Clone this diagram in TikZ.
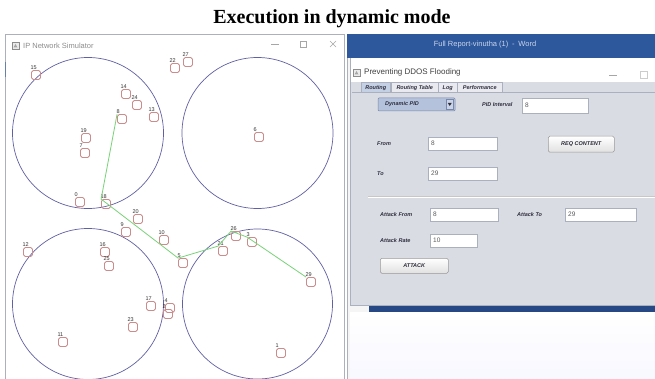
\documentclass[tikz,border=0pt]{standalone}
\usepackage{fontspec}
\setmainfont{Liberation Serif}
\newfontfamily\uisans{Liberation Sans}

\definecolor{zone}{RGB}{96,96,165}
\definecolor{nodeedge}{RGB}{205,140,140}
\definecolor{routegreen}{RGB}{120,210,120}
\definecolor{wordblue}{RGB}{46,88,156}
\definecolor{wordtitle}{RGB}{200,212,236}
\definecolor{panelgrey}{RGB}{218,220,228}
\definecolor{barblue}{RGB}{38,72,132}
\definecolor{frameedge}{RGB}{170,176,190}
\definecolor{labelink}{RGB}{45,45,60}
\definecolor{fieldink}{RGB}{90,90,95}
\definecolor{dropfill}{RGB}{180,194,220}
\definecolor{dropedge}{RGB}{120,136,170}
\definecolor{tabsel}{RGB}{196,208,228}
\definecolor{tabfill}{RGB}{232,234,240}

% text field: x1 y1 x2 y2 text
\newcommand\uifield[5]{%
  \draw[draw=frameedge, fill=white, line width=0.5pt] (#1,#2) rectangle (#3,#4);
  \node[fieldtext, anchor=west] at ({#1+3},{(#2+#4)/2}) {#5};}

\begin{document}
\begin{tikzpicture}[x=1pt,y=-1pt,
  zonering/.style={draw=zone, line width=0.7pt},
  nlabel/.style={font=\uisans\fontsize{5.5}{6}\selectfont, text=black!80, inner sep=0.2pt, anchor=south west, xshift=-1pt},
  simnode/.style={draw=nodeedge, line width=0.8pt, rounded corners=1.8pt,
    minimum size=9pt, inner sep=0pt, label={[nlabel]north west:#1}},
  route/.style={draw=routegreen, line width=0.8pt},
  wintitle/.style={font=\uisans\fontsize{7.5}{9}\selectfont, text=black!45, anchor=west, inner sep=0pt},
  paneltext/.style={font=\uisans\bfseries\itshape\fontsize{5.5}{6}\selectfont, text=labelink, inner sep=0pt},
  fieldtext/.style={font=\uisans\fontsize{6.5}{7}\selectfont, text=fieldink, inner sep=0pt},
  tabbox/.style={draw=frameedge, line width=0.5pt, fill=tabfill, minimum height=10pt, inner sep=0pt,
    font=\uisans\bfseries\itshape\fontsize{5.5}{6}\selectfont, text=labelink, anchor=north west},
  button/.style={draw=black!40, line width=0.5pt, rounded corners=1.5pt, top color=white, bottom color=black!12,
    inner sep=0pt, font=\uisans\bfseries\itshape\fontsize{5.5}{6}\selectfont, text=labelink, anchor=north west},
  ctl/.style={draw=black!35, line width=0.6pt}
]
\useasboundingbox (0,0) rectangle (655,379);
\fill[white] (0,0) rectangle (655,379);

% heading
\node[font=\bfseries\fontsize{20}{24}\selectfont, inner sep=0pt] (heading) at (332,19) {Execution in dynamic mode};

% ---------------- simulator window ----------------
\draw[frameedge, line width=0.6pt] (5,379) -- (5,34) -- (344,34) -- (344,379);
\draw[barblue!70, line width=0.8pt] (5,62) -- (5,77);
\draw[black!45, line width=0.5pt, fill=black!8] (12,42) rectangle (19,49);
\fill[black!35] (13.5,47.5) -- (15.5,44) -- (17.5,47.5) -- cycle;
\node[wintitle] (simtitle) at (23,45.5) {IP Network Simulator};
\draw[ctl] (271,44) -- (279,44);
\draw[ctl] (300,41) rectangle (306,47);
\draw[ctl] (330,41) -- (336,47) (330,47) -- (336,41);

% coverage zones
\draw[zonering] (88,133) circle[radius=75.5pt];
\draw[zonering] (257.5,133) circle[radius=75.5pt];
\draw[zonering] (88,304) circle[radius=75.5pt];
\draw[zonering] (257.5,304) circle[radius=75pt];

% network nodes
\node[simnode=15] (n15) at (36,75) {};
\node[simnode=22] (n22) at (175,68) {};
\node[simnode=27] (n27) at (188,62) {};
\node[simnode=14] (n14) at (126,94) {};
\node[simnode=24] (n24) at (137,105) {};
\node[simnode=8]  (n8)  at (122,119) {};
\node[simnode=13] (n13) at (154,117) {};
\node[simnode=19] (n19) at (86,138) {};
\node[simnode=7]  (n7)  at (85,153) {};
\node[simnode=6]  (n6)  at (259,137) {};
\node[simnode=0]  (n0)  at (80,202) {};
\node[simnode=18] (n18) at (106,204) {};
\node[simnode=20] (n20) at (138,219) {};
\node[simnode=9]  (n9)  at (126,232) {};
\node[simnode=10] (n10) at (164,240) {};
\node[simnode=12] (n12) at (28,252) {};
\node[simnode=16] (n16) at (105,252) {};
\node[simnode=25] (n25) at (109,266) {};
\node[simnode=17] (n17) at (151,306) {};
\node[simnode=4]  (n4)  at (170,308) {};
\node[simnode=2]  (n2)  at (168,314) {};
\node[simnode=23] (n23) at (133,327) {};
\node[simnode=11] (n11) at (63,342) {};
\node[simnode=5]  (n5)  at (183,263) {};
\node[simnode=21] (n21) at (223,251) {};
\node[simnode=26] (n26) at (236,236) {};
\node[simnode=3]  (n3)  at (252,242) {};
\node[simnode=29] (n29) at (311,282) {};
\node[simnode=1]  (n1)  at (281,353) {};

% discovered route
\draw[route] (n8.north west) -- (n18.north west) -- (n5.north west) -- (n21.north west)
  -- (n26.north west) -- (n3.north west) -- (n29.north west);

% ---------------- word window behind ----------------
\fill[wordblue] (347,34) rectangle (655,58);
\node[font=\uisans\fontsize{7.5}{9}\selectfont, text=wordtitle, inner sep=0pt] (wordtitle) at (485,45) {Full Report-vinutha (1)\enspace-\enspace Word};
\fill[black!4] (347,58) rectangle (655,379);
\draw[frameedge, line width=0.6pt] (347.5,58) -- (347.5,379);
\shade[top color=white, bottom color=blue!3] (350,312) rectangle (655,379);
\fill[barblue] (369,306) rectangle (655,312);

% ---------------- dialog ----------------
\fill[white] (350,58) rectangle (655,82);
\fill[panelgrey] (350,82) rectangle (655,305);
\draw[frameedge, line width=0.6pt] (350.5,58) -- (350.5,305.5) -- (655,305.5);
\draw[black!45, line width=0.5pt, fill=black!8] (353,69) rectangle (360,76);
\fill[black!35] (354.5,74.5) -- (356.5,71) -- (358.5,74.5) -- cycle;
\node[font=\uisans\fontsize{8}{9}\selectfont, text=black!75, anchor=west, inner sep=0pt] (dlgtitle) at (364,72.5) {Preventing DDOS Flooding};
\draw[ctl] (609,75) -- (617,75);
\draw[draw=black!20, line width=0.6pt] (640,71) rectangle (647,78);

% tabs
\draw[frameedge, line width=0.5pt] (352,92.5) -- (655,92.5);
\node[tabbox, fill=tabsel, minimum width=29pt] (tabrouting) at (361,82.5) {Routing};
\node[tabbox, minimum width=47pt] (tabtable) at (391,82.5) {Routing Table};
\node[tabbox, minimum width=19pt] (tablog) at (438,82.5) {Log};
\node[tabbox, minimum width=45pt] (tabperf) at (457,82.5) {Performance};

% routing mode selector
\draw[draw=dropedge, fill=dropfill, line width=0.5pt, rounded corners=1pt] (378,98) rectangle (455,111);
\draw[draw=dropedge, fill=dropfill!70, line width=0.4pt] (446,99.5) rectangle (453.5,109.5);
\fill[labelink] (447.8,103) -- (451.7,103) -- (449.75,106) -- cycle;
\node[paneltext, anchor=west] (mode) at (385,104.5) {Dynamic PID};
\node[paneltext, anchor=west] (pidlbl) at (482,105) {PID Interval};
\uifield{522}{98}{588}{113}{8}

% request
\node[paneltext, anchor=west] (fromlbl) at (377,144) {From};
\uifield{428}{137}{497}{150}{8}
\node[button, minimum width=66pt, minimum height=16pt] (reqbtn) at (548,136) {REQ CONTENT};
\node[paneltext, anchor=west] (tolbl) at (377,174) {To};
\uifield{428}{167}{497}{180}{29}

\draw[black!22, line width=0.6pt] (368,196) -- (655,196);
\draw[white, line width=0.6pt] (368,197) -- (655,197);

% attack
\node[paneltext, anchor=west] (atkfrom) at (380,215) {Attack From};
\uifield{430}{208}{498}{221}{8}
\node[paneltext, anchor=west] (atkto) at (517,215) {Attack To};
\uifield{565}{208}{636}{221}{29}
\node[paneltext, anchor=west] (atkrate) at (380,241) {Attack Rate};
\uifield{430}{234}{477}{247}{10}
\node[button, minimum width=68pt, minimum height=15pt] (atkbtn) at (380,258) {ATTACK};
\end{tikzpicture}
\end{document}
